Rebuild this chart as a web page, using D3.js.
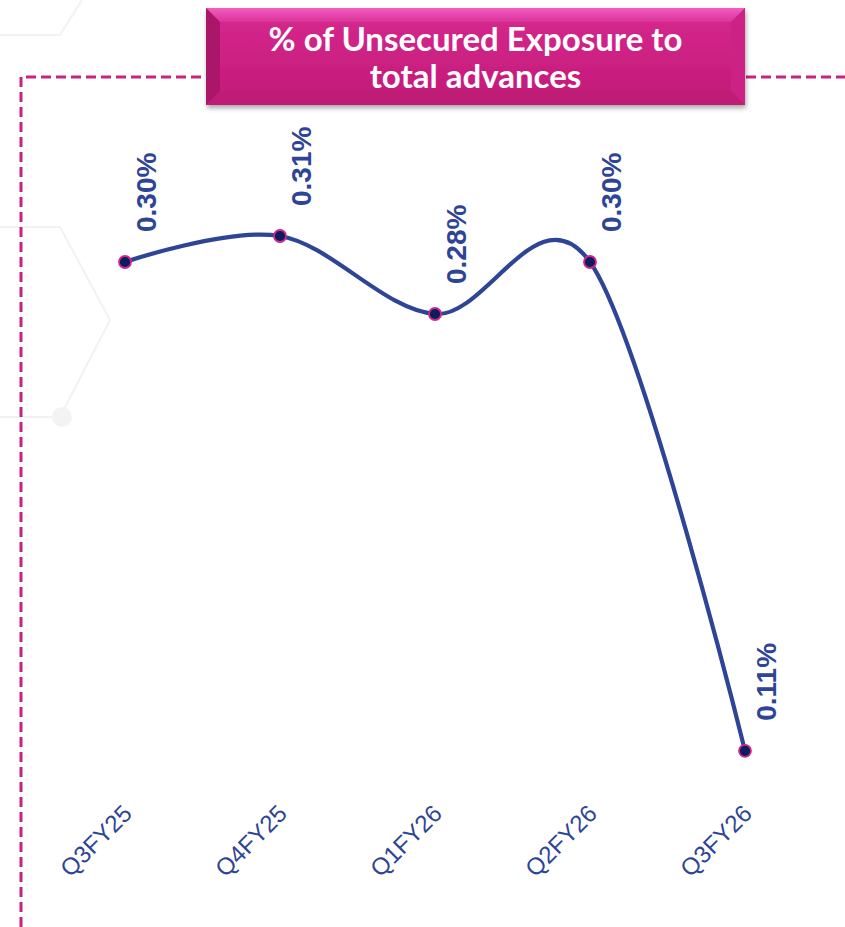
<!DOCTYPE html>
<html lang="en">
<head>
<meta charset="UTF-8">
<title>% of Unsecured Exposure to total advances</title>
<script src="https://d3js.org/d3.v7.min.js"></script>
<style>
    html, body { margin: 0; padding: 0; background: #fff; }
    svg { display: block; }
    .arial { font-family: Arial, "Liberation Sans", Helvetica, sans-serif; }
</style>
</head>
<body>
<div id="chart"></div>
<script>
    const quarters = ["Q3FY25", "Q4FY25", "Q1FY26", "Q2FY26", "Q3FY26"];
    const exposure = [0.300, 0.310, 0.280, 0.300, 0.112];
    const pointLabels = ["0.30%", "0.31%", "0.28%", "0.30%", "0.11%"];
    const titleLines = ["% of Unsecured Exposure to", "total advances"];

    const W = 845, H = 927;
    const blue = "#2E4496", pink = "#C8237E";

    const svg = d3.select("#chart").append("svg")
        .attr("width", W).attr("height", H);

    const defs = svg.append("defs");
    const g1 = defs.append("linearGradient").attr("id", "boxGrad")
        .attr("x1", 0).attr("y1", 0).attr("x2", 0).attr("y2", 1);
    g1.append("stop").attr("offset", "0%").attr("stop-color", "#D7288F");
    g1.append("stop").attr("offset", "100%").attr("stop-color", "#C21A78");
    const topGrad = defs.append("linearGradient").attr("id", "topGrad")
        .attr("x1", 0).attr("y1", 0).attr("x2", 0).attr("y2", 1);
    topGrad.append("stop").attr("offset", "0%").attr("stop-color", "#F35EC0");
    topGrad.append("stop").attr("offset", "100%").attr("stop-color", "#DA3399");
    const shadow = defs.append("filter").attr("id", "shadow")
        .attr("x", "-10%").attr("y", "-10%").attr("width", "120%").attr("height", "130%");
    shadow.append("feDropShadow").attr("dx", 1).attr("dy", 3).attr("stdDeviation", 2.5)
        .attr("flood-color", "#000").attr("flood-opacity", 0.35);

    // faint background hexagons
    const bg = svg.append("g").attr("fill", "none").attr("stroke", "#F2F2F4").attr("stroke-width", 2);
    bg.append("path").attr("d", "M0,35 L60,35 L82,0");
    bg.append("path").attr("d", "M0,227 L60,227 L110,320 L60,417 L0,417");
    svg.append("circle").attr("cx", 62).attr("cy", 417).attr("r", 10).attr("fill", "#F3F3F5");

    // dashed frame
    svg.append("path")
        .attr("d", `M21,${H} L21,77 L${W},77`)
        .attr("fill", "none")
        .attr("stroke", pink)
        .attr("stroke-width", 3)
        .attr("stroke-dasharray", "10,5");

    // title box
    const bx = 206, by = 8, bw = 539, bh = 97, bev = 14;
    const box = svg.append("g").attr("filter", "url(#shadow)");
    box.append("rect").attr("x", bx).attr("y", by).attr("width", bw).attr("height", bh)
        .attr("fill", "url(#boxGrad)");
    box.append("path")
        .attr("d", `M${bx},${by} L${bx + bw},${by} L${bx + bw - bev},${by + bev} L${bx + bev},${by + bev}Z`)
        .attr("fill", "url(#topGrad)");
    box.append("path")
        .attr("d", `M${bx},${by} L${bx + bev},${by + bev} L${bx + bev},${by + bh - bev} L${bx},${by + bh}Z`)
        .attr("fill", "#A9176B");
    box.append("path")
        .attr("d", `M${bx + bw},${by} L${bx + bw - bev},${by + bev} L${bx + bw - bev},${by + bh - bev} L${bx + bw},${by + bh}Z`)
        .attr("fill", "#CC2486");
    box.append("path")
        .attr("d", `M${bx},${by + bh} L${bx + bev},${by + bh - bev} L${bx + bw - bev},${by + bh - bev} L${bx + bw},${by + bh}Z`)
        .attr("fill", "#BE1A74");

    svg.selectAll("text.title")
        .data(titleLines).enter()
        .append("text")
        .attr("class", "title")
        .attr("x", bx + bw / 2)
        .attr("y", (d, i) => 51 + i * 37)
        .attr("text-anchor", "middle")
        .attr("fill", "#fff")
        .style("font-family", "Lato, 'Open Sans', sans-serif")
        .style("font-weight", "bold")
        .style("font-size", "33px")
        .text(d => d);

    // scales
    const x = d3.scalePoint().domain(quarters).range([125, 745]);
    const y = d3.scaleLinear().domain([0.10, 0.32]).range([782, 210]);

    const data = quarters.map((q, i) => ({ q, v: exposure[i], label: pointLabels[i] }));

    const line = d3.line()
        .x(d => x(d.q))
        .y(d => y(d.v))
        .curve(d3.curveCardinal.tension(0));

    svg.append("path")
        .datum(data)
        .attr("d", line)
        .attr("fill", "none")
        .attr("stroke", blue)
        .attr("stroke-width", 4.2)
        .attr("stroke-linecap", "round");

    svg.selectAll("circle.pt")
        .data(data).enter()
        .append("circle")
        .attr("class", "pt")
        .attr("cx", d => x(d.q))
        .attr("cy", d => y(d.v))
        .attr("r", 6)
        .attr("fill", "#0B1D5E")
        .attr("stroke", "#D0268A")
        .attr("stroke-width", 1.8);

    // value labels, rotated
    svg.selectAll("text.val")
        .data(data).enter()
        .append("text")
        .attr("class", "val arial")
        .attr("transform", d => `translate(${x(d.q) + 31},${y(d.v) - 30}) rotate(-90)`)
        .attr("fill", blue)
        .style("font-weight", "bold")
        .style("font-size", "28px")
        .text(d => d.label);

    // category axis labels
    const xAxis = d3.axisBottom(x).tickSize(0);
    const ax = svg.append("g").attr("transform", "translate(0,815)").call(xAxis);
    ax.attr("font-family", null).attr("font-size", null);
    ax.select(".domain").remove();
    ax.selectAll("text")
        .attr("class", "arial")
        .attr("transform", "translate(8,0) rotate(-45)")
        .attr("dy", 0)
        .attr("y", 0)
        .attr("text-anchor", "end")
        .attr("fill", blue)
        .style("font-size", "24px");
</script>
</body>
</html>
